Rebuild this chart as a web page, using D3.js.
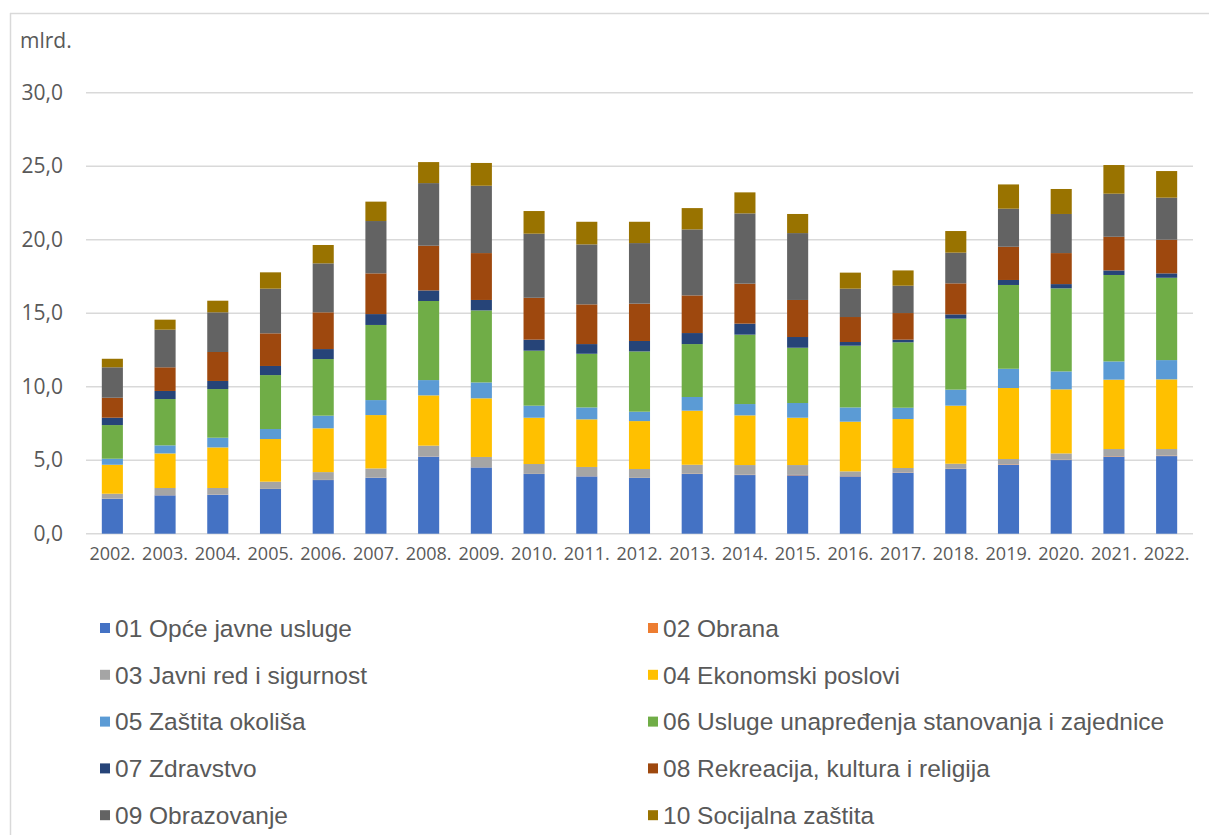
<!DOCTYPE html>
<html>
<head>
<meta charset="utf-8">
<script src="https://cdn.jsdelivr.net/npm/d3@7"></script>
<style>
  body { margin: 0; background: #fff; }
  svg { display: block; }
</style>
</head>
<body>
<svg id="chart" width="1209" height="835"></svg>
<script>
// years on the x axis
const years = ["2002.", "2003.", "2004.", "2005.", "2006.", "2007.", "2008.", "2009.", "2010.", "2011.",
  "2012.", "2013.", "2014.", "2015.", "2016.", "2017.", "2018.", "2019.", "2020.", "2021.", "2022."];

// series values, mlrd.
const opceJavneUsluge = [2.38, 2.61, 2.65, 3.04, 3.65, 3.81, 5.24, 4.51, 4.06, 3.90, 3.79, 4.06, 3.99, 3.97, 3.90, 4.15, 4.40, 4.69, 5.01, 5.24, 5.28];
const obrana = [0.01, 0.01, 0.01, 0.01, 0.01, 0.01, 0.01, 0.01, 0.01, 0.01, 0.01, 0.02, 0.02, 0.03, 0.02, 0.02, 0.02, 0.03, 0.02, 0.03, 0.03];
const javniRed = [0.33, 0.49, 0.45, 0.49, 0.53, 0.62, 0.74, 0.70, 0.67, 0.63, 0.60, 0.61, 0.66, 0.67, 0.32, 0.30, 0.34, 0.36, 0.43, 0.49, 0.45];
const ekonomski = [1.97, 2.35, 2.76, 2.90, 2.98, 3.63, 3.42, 3.99, 3.15, 3.24, 3.26, 3.68, 3.38, 3.22, 3.38, 3.33, 3.95, 4.83, 4.36, 4.72, 4.74];
const okolis = [0.41, 0.55, 0.66, 0.68, 0.86, 1.02, 1.04, 1.08, 0.82, 0.81, 0.64, 0.93, 0.77, 1.00, 0.97, 0.77, 1.09, 1.31, 1.22, 1.24, 1.31];
const stanovanje = [2.29, 3.15, 3.31, 3.67, 3.85, 5.11, 5.38, 4.90, 3.74, 3.65, 4.10, 3.60, 4.72, 3.76, 4.20, 4.45, 4.83, 5.70, 5.65, 5.88, 5.60];
const zdravstvo = [0.50, 0.55, 0.55, 0.62, 0.68, 0.74, 0.72, 0.71, 0.75, 0.66, 0.71, 0.75, 0.75, 0.73, 0.25, 0.18, 0.29, 0.34, 0.29, 0.31, 0.30];
const rekreacija = [1.36, 1.61, 1.97, 2.22, 2.50, 2.77, 3.04, 3.19, 2.85, 2.70, 2.54, 2.56, 2.72, 2.52, 1.70, 1.81, 2.11, 2.26, 2.11, 2.29, 2.29];
const obrazovanje = [2.07, 2.56, 2.70, 3.04, 3.33, 3.56, 4.26, 4.58, 4.36, 4.08, 4.12, 4.49, 4.78, 4.55, 1.93, 1.86, 2.09, 2.59, 2.66, 2.93, 2.86];
const socijalna = [0.58, 0.68, 0.79, 1.11, 1.25, 1.32, 1.43, 1.55, 1.54, 1.54, 1.45, 1.45, 1.43, 1.30, 1.09, 1.04, 1.47, 1.65, 1.70, 1.95, 1.81];

const seriesNames = ["01 Opće javne usluge", "02 Obrana", "03 Javni red i sigurnost", "04 Ekonomski poslovi",
  "05 Zaštita okoliša", "06 Usluge unapređenja stanovanja i zajednice", "07 Zdravstvo",
  "08 Rekreacija, kultura i religija", "09 Obrazovanje", "10 Socijalna zaštita"];
const seriesValues = [opceJavneUsluge, obrana, javniRed, ekonomski, okolis, stanovanje, zdravstvo, rekreacija, obrazovanje, socijalna];
const seriesColors = ["#4472C4", "#ED7D31", "#A5A5A5", "#FFC000", "#5B9BD5", "#70AD47", "#264478", "#9E480E", "#636363", "#997300"];

const yTicks = [0, 5, 10, 15, 20, 25, 30];

const textColor = "#595959";
const gridColor = "#d9d9d9";

// build rows for d3.stack
const rows = years.map((y, i) => {
    const row = { year: y };
    seriesNames.forEach((name, k) => { row[name] = seriesValues[k][i]; });
    return row;
});

const svg = d3.select("#chart");

// chart frame (left and top edges visible)
svg.append("line").attr("x1", 10.5).attr("x2", 10.5).attr("y1", 13).attr("y2", 835)
    .attr("stroke", gridColor).attr("stroke-width", 1.5);
svg.append("line").attr("x1", 10).attr("x2", 1209).attr("y1", 13.5).attr("y2", 13.5)
    .attr("stroke", gridColor).attr("stroke-width", 1.5);

const x = d3.scaleBand()
    .domain(years)
    .range([86, 1193])
    .paddingInner(0.6)
    .paddingOuter(0.3);

const y = d3.scaleLinear()
    .domain([0, 30])
    .range([533.7, 92.7]);

// gridlines
svg.append("g")
    .selectAll("line")
    .data(yTicks)
    .join("line")
    .attr("x1", 86)
    .attr("x2", 1193)
    .attr("y1", d => y(d))
    .attr("y2", d => y(d))
    .attr("stroke", gridColor)
    .attr("stroke-width", 1.6);

// y axis labels
const yAxis = d3.axisLeft(y)
    .tickValues(yTicks)
    .tickSize(0)
    .tickPadding(0)
    .tickFormat(d => d3.format(".1f")(d).replace(".", ","));

const yAxisG = svg.append("g")
    .attr("transform", "translate(63,0)")
    .call(yAxis);
yAxisG.select(".domain").remove();
yAxisG.selectAll("text")
    .attr("font-family", "'Open Sans', 'Noto Sans', sans-serif")
    .attr("font-size", 21)
    .attr("fill", textColor);

svg.append("text")
    .attr("x", 20)
    .attr("y", 48)
    .attr("font-family", "'Open Sans', 'Noto Sans', sans-serif")
    .attr("font-size", 21)
    .attr("fill", textColor)
    .text("mlrd.");

// stacked bars
const stack = d3.stack().keys(seriesNames);
const stacked = stack(rows);

svg.append("g")
    .selectAll("g")
    .data(stacked)
    .join("g")
    .attr("fill", (d, i) => seriesColors[i])
    .selectAll("rect")
    .data(d => d)
    .join("rect")
    .attr("x", d => x(d.data.year))
    .attr("width", x.bandwidth())
    .attr("y", d => y(d[1]))
    .attr("height", d => Math.max(0, y(d[0]) - y(d[1])));

// x axis labels
const xAxis = d3.axisBottom(x).tickSize(0).tickPadding(0);
const xAxisG = svg.append("g")
    .attr("transform", "translate(0,547)")
    .call(xAxis);
xAxisG.select(".domain").remove();
xAxisG.selectAll("text")
    .attr("font-family", "'Open Sans', 'Noto Sans', sans-serif")
    .attr("font-size", 18)
    .attr("fill", textColor);

// legend, two columns
const legendCols = [100, 648];
const legendRow0 = 628;
const legendStep = 46.8;

const legend = svg.append("g")
    .selectAll("g")
    .data(seriesNames)
    .join("g")
    .attr("transform", (d, i) => `translate(${legendCols[i % 2]},${legendRow0 + Math.floor(i / 2) * legendStep})`);

legend.append("rect")
    .attr("x", 0)
    .attr("y", -5)
    .attr("width", 10)
    .attr("height", 10)
    .attr("fill", (d, i) => seriesColors[i]);

legend.append("text")
    .attr("x", 15)
    .attr("y", 0)
    .attr("dy", "0.36em")
    .attr("font-family", "'Liberation Sans', Arial, sans-serif")
    .attr("font-size", 24.5)
    .attr("fill", textColor)
    .text(d => d);
</script>
</body>
</html>
